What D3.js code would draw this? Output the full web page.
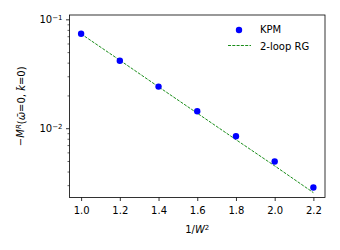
<!DOCTYPE html>
<html><head><meta charset="utf-8">
<script src="https://cdn.jsdelivr.net/npm/d3@7"></script>
<style>body{margin:0;background:#fff}svg{display:block}text{font-family:"DejaVu Sans",sans-serif}</style>
</head><body><svg id="c" width="340" height="250"></svg>
<script>
const xVals = [1.0, 1.2, 1.4, 1.6, 1.8, 2.0, 2.2];
const kpm = [0.0738, 0.0417, 0.0241, 0.01432, 0.00845, 0.00494, 0.00285];
const rg = [0.0735, 0.0421, 0.0240, 0.01374, 0.00785, 0.00451, 0.00256];
const xTicks = [1.0, 1.2, 1.4, 1.6, 1.8, 2.0, 2.2];
const yMajor = [0.1, 0.01];
const yMajorExp = ["−1", "−2"];
const yMinor = [0.003,0.004,0.005,0.006,0.007,0.008,0.009,0.02,0.03,0.04,0.05,0.06,0.07,0.08,0.09];
const legendLabels = ["KPM", "2-loop RG"];

const svg = d3.select("#c");
const L = 69.5, R = 325, T = 15, B = 197.5;
const x = d3.scaleLinear().domain([0.94, 2.26]).range([L, R]);
const y = d3.scaleLog().domain([0.00231, 0.1096]).range([B, T]);
const fs = 10;

// x axis
const xa = svg.append("g").attr("transform", `translate(0,${B})`)
  .call(d3.axisBottom(x).tickValues(xTicks).tickFormat(d3.format(".1f")).tickSize(3.5).tickPadding(5.5));
xa.select(".domain").remove();
xa.selectAll("text").attr("font-size", fs).attr("fill", "#000").style("font-family", "DejaVu Sans");
xa.selectAll("line").attr("stroke", "#000").attr("stroke-width", 0.8);

// y axis major
const ya = svg.append("g").attr("transform", `translate(${L},0)`)
  .call(d3.axisLeft(y).tickValues(yMajor).tickFormat(() => "").tickSize(3.5));
ya.select(".domain").remove();
ya.selectAll("line").attr("stroke", "#000").attr("stroke-width", 0.8);
ya.selectAll(".tick").each(function(d, i) {
  const t = d3.select(this).append("text").attr("x", -7).attr("dy", "0.32em")
    .attr("text-anchor", "end").attr("font-size", fs).attr("fill", "#000");
  t.append("tspan").text("10");
  t.append("tspan").attr("dy", "-0.45em").attr("font-size", fs * 0.7).text(yMajorExp[i]);
});
const ym = svg.append("g").attr("transform", `translate(${L},0)`)
  .call(d3.axisLeft(y).tickValues(yMinor).tickFormat(() => "").tickSize(2));
ym.select(".domain").remove();
ym.selectAll("line").attr("stroke", "#000").attr("stroke-width", 0.6);

// frame
svg.append("rect").attr("x", L).attr("y", T).attr("width", R - L).attr("height", B - T)
  .attr("fill", "none").attr("stroke", "#000").attr("stroke-width", 0.8);

// RG line
svg.append("path").datum(xVals.map((v, i) => [v, rg[i]]))
  .attr("d", d3.line().x(d => x(d[0])).y(d => y(d[1])))
  .attr("fill", "none").attr("stroke", "#008000").attr("stroke-width", 0.9)
  .attr("stroke-dasharray", "3,1.3");

// KPM points
svg.append("g").selectAll("circle").data(xVals).join("circle")
  .attr("cx", d => x(d)).attr("cy", (d, i) => y(kpm[i])).attr("r", 3.2).attr("fill", "#0000ff");

// legend
svg.append("circle").attr("cx", 239).attr("cy", 30).attr("r", 3.2).attr("fill", "#0000ff");
svg.append("line").attr("x1", 228).attr("x2", 251).attr("y1", 45.5).attr("y2", 45.5)
  .attr("stroke", "#008000").attr("stroke-width", 0.9).attr("stroke-dasharray", "3,1.3");
svg.append("text").attr("x", 260).attr("y", 33).attr("font-size", fs).text(legendLabels[0]);
svg.append("text").attr("x", 260).attr("y", 50.3).attr("font-size", fs).text(legendLabels[1]);

// x label
const xl = svg.append("text").attr("x", (L + R) / 2).attr("y", 233).attr("text-anchor", "middle").attr("font-size", fs);
xl.append("tspan").text("1/");
xl.append("tspan").attr("font-style", "italic").text("W");
xl.append("tspan").attr("dy", "-0.45em").attr("font-size", fs * 0.7).text("2");

// y label
const yl = svg.append("text").attr("transform", `translate(24,${(T + B) / 2}) rotate(-90)`)
  .attr("text-anchor", "middle").attr("font-size", fs);
yl.append("tspan").text("−");
yl.append("tspan").attr("font-style", "italic").text("M");
yl.append("tspan").attr("dy", "-0.45em").attr("font-size", fs * 0.7).attr("font-style", "italic").text("R");
yl.append("tspan").attr("dy", "0.45em").text("(");
yl.append("tspan").attr("font-style", "italic").text("ω̄");
yl.append("tspan").text("=0, ");
yl.append("tspan").attr("font-style", "italic").text("k̄");
yl.append("tspan").text("=0)");
</script></body></html>
